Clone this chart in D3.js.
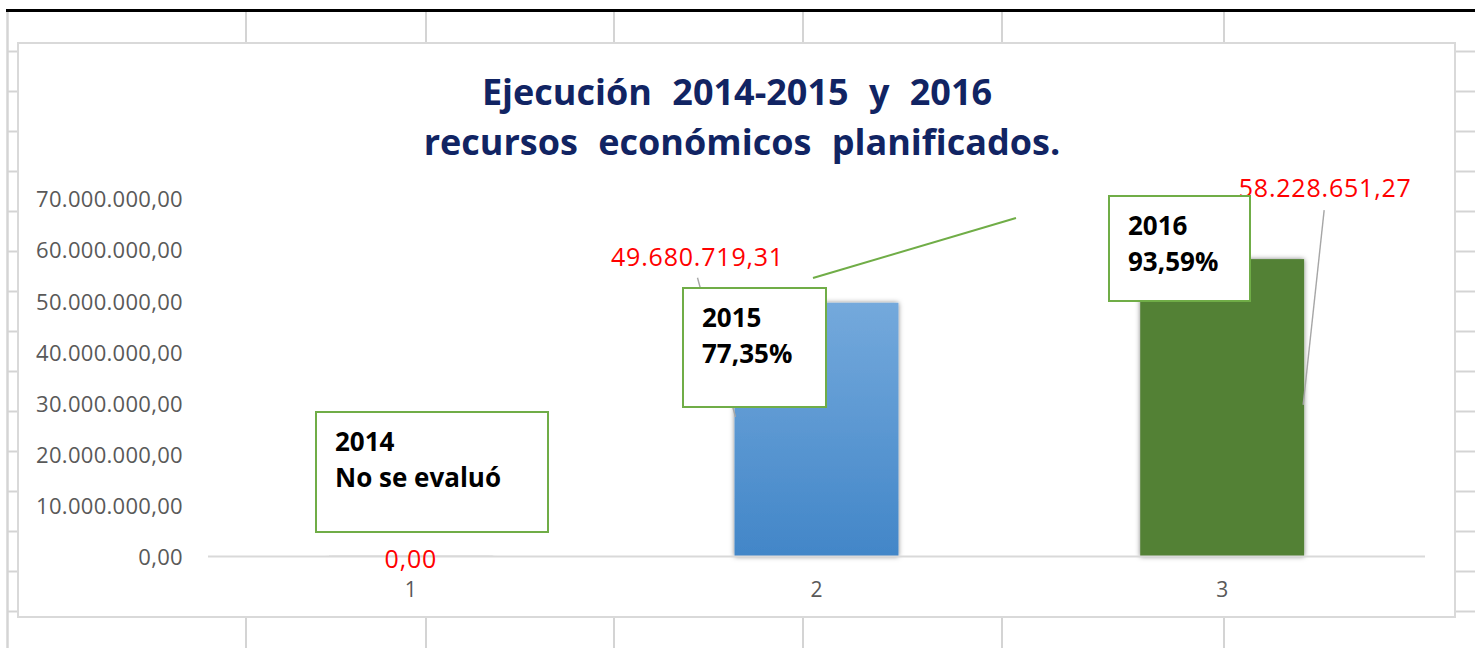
<!DOCTYPE html>
<html>
<head>
<meta charset="utf-8">
<script src="https://cdn.jsdelivr.net/npm/d3@7"></script>
<style>
  html, body { margin: 0; padding: 0; background: #ffffff; }
  svg { display: block; }
</style>
</head>
<body>
<svg id="chart" width="1475" height="648"></svg>
<script>
// ---------------- DATA ----------------
const categories = ["1", "2", "3"];
const values = [0, 49680719.31, 58228651.27];
const yTickValues = [0, 10000000, 20000000, 30000000, 40000000, 50000000, 60000000, 70000000];
const boxYears = ["2014", "2015", "2016"];
const boxTexts = ["No se evaluó", "77,35%", "93,59%"];
const titleLines = ["Ejecución 2014-2015 y 2016", "recursos económicos planificados."];

// ---------------- LAYOUT / STYLE ----------------
const W = 1475, H = 648;
const chartBox = { x: 18, y: 43, w: 1437, h: 574 };
const plot = { left: 208, right: 1425, top: 199, bottom: 556.5 };
const gridColor = "#d4d4d4";
const colLines = [246, 426, 614, 803, 1002, 1224];

// label offsets relative to bar centre / bar top (annotation placement)
const labelOffsets = [{ dx: 0, dy: 11.5, fromZero: true }, { dx: -119, dy: -37 }, { dx: 103, dy: -62 }];
// leader lines: label anchor -> bar anchor (relative)
const leaders = [null, { x1: -119, y1: -25, x2: -81, yv: 0.55 }, { x1: 102, y1: -49, x2: 81, yv: 0.51 }];
// annotation text boxes (absolute, free-floating like in the sheet)
const boxes = [
  { x: 316, y: 412, w: 232, h: 120 },
  { x: 683, y: 288, w: 143, h: 119 },
  { x: 1109, y: 196, w: 141, h: 105 }
];

const svg = d3.select("#chart");
svg.append("rect").attr("width", W).attr("height", H).attr("fill", "#ffffff");

// defs
const defs = svg.append("defs");
const grad = defs.append("linearGradient").attr("id", "blueGrad")
  .attr("x1", 0).attr("y1", 0).attr("x2", 0).attr("y2", 1);
grad.append("stop").attr("offset", "0%").attr("stop-color", "#74a9dc");
grad.append("stop").attr("offset", "100%").attr("stop-color", "#4286c8");
const filt = defs.append("filter").attr("id", "shadow")
  .attr("x", "-20%").attr("y", "-20%").attr("width", "140%").attr("height", "140%");
filt.append("feDropShadow").attr("dx", 0).attr("dy", 0).attr("stdDeviation", 2.8)
  .attr("flood-color", "#000").attr("flood-opacity", 0.5);
const barFills = ["#d9d9d9", "url(#blueGrad)", "#538135"];

// ---------------- SPREADSHEET BACKGROUND ----------------
const bg = svg.append("g");
colLines.forEach(x => {
  bg.append("line").attr("x1", x).attr("x2", x).attr("y1", 11).attr("y2", chartBox.y)
    .attr("stroke", gridColor).attr("stroke-width", 2);
  bg.append("line").attr("x1", x).attr("x2", x).attr("y1", chartBox.y + chartBox.h).attr("y2", H)
    .attr("stroke", gridColor).attr("stroke-width", 2);
});
for (let k = 0; k < 16; k++) {
  const yy = 51.5 + 40 * k;
  bg.append("line").attr("x1", 7).attr("x2", chartBox.x).attr("y1", yy).attr("y2", yy)
    .attr("stroke", gridColor).attr("stroke-width", 2);
  bg.append("line").attr("x1", chartBox.x + chartBox.w).attr("x2", W).attr("y1", yy).attr("y2", yy)
    .attr("stroke", gridColor).attr("stroke-width", 2);
}
bg.append("line").attr("x1", 7.5).attr("x2", 7.5).attr("y1", 11).attr("y2", H)
  .attr("stroke", gridColor).attr("stroke-width", 2.5);
bg.append("line").attr("x1", 6).attr("x2", W).attr("y1", 10.5).attr("y2", 10.5)
  .attr("stroke", "#000").attr("stroke-width", 3);

// chart area
svg.append("rect").attr("x", chartBox.x).attr("y", chartBox.y)
  .attr("width", chartBox.w).attr("height", chartBox.h)
  .attr("fill", "#ffffff").attr("stroke", "#d9d9d9").attr("stroke-width", 2);

// ---------------- TITLE ----------------
const title = svg.append("text").attr("text-anchor", "middle")
  .attr("font-family", "'Open Sans', sans-serif").attr("font-weight", 700)
  .attr("font-size", 36).attr("fill", "#112463").attr("word-spacing", 11);
title.append("tspan").attr("x", 737).attr("y", 105).text(titleLines[0]);
title.append("tspan").attr("x", 742).attr("y", 155).text(titleLines[1]);

// ---------------- SCALES ----------------
const x = d3.scaleBand().domain(categories).range([plot.left, plot.right])
  .paddingInner(0.596).paddingOuter(0.298);
const y = d3.scaleLinear().domain([0, 70000000]).range([plot.bottom, plot.top]);

const locale = d3.formatLocale({ decimal: ",", thousands: ".", grouping: [3], currency: ["", ""] });
const fmt = locale.format(",.2f");

// y axis
const yAxis = d3.axisLeft(y).tickValues(yTickValues).tickSize(0).tickPadding(8).tickFormat(fmt);
const gy = svg.append("g").attr("transform", "translate(191,0)").call(yAxis);
gy.select(".domain").remove();
gy.selectAll("text").attr("font-family", "'Open Sans', sans-serif").attr("font-size", 22)
  .attr("letter-spacing", 0.3).attr("fill", "#595959").attr("dy", "0.36em");

// bars
const cx = d => x(d) + x.bandwidth() / 2;
svg.append("g").selectAll("rect").data(values).join("rect")
  .attr("x", (d, i) => x(categories[i]))
  .attr("width", x.bandwidth())
  .attr("y", d => Math.min(y(d), plot.bottom - 1))
  .attr("height", d => Math.max(plot.bottom - y(d), 1))
  .attr("fill", (d, i) => barFills[i])
  .attr("filter", "url(#shadow)");

// x axis
const xAxis = d3.axisBottom(x).tickSize(0).tickSizeOuter(0).tickPadding(26);
const gx = svg.append("g").attr("transform", `translate(0,${plot.bottom})`).call(xAxis);
gx.select(".domain").attr("d", `M${plot.left},0H${plot.right}`)
  .attr("stroke", "#d9d9d9").attr("stroke-width", 2);
gx.selectAll("text").attr("font-family", "'Open Sans', sans-serif").attr("font-size", 21)
  .attr("fill", "#595959");

// leader lines
const gl = svg.append("g");
values.forEach((v, i) => {
  const L = leaders[i];
  if (!L) return;
  const c = cx(categories[i]);
  gl.append("line")
    .attr("x1", c + L.x1).attr("y1", y(v) + L.y1)
    .attr("x2", c + L.x2).attr("y2", y(v * L.yv))
    .attr("stroke", "#a6a6a6").attr("stroke-width", 1.4);
});

// value labels
svg.append("g").selectAll("text").data(values).join("text")
  .attr("x", (d, i) => cx(categories[i]) + labelOffsets[i].dx)
  .attr("y", (d, i) => (labelOffsets[i].fromZero ? y(0) : y(d)) + labelOffsets[i].dy)
  .attr("text-anchor", "middle")
  .attr("font-family", "'Open Sans', sans-serif").attr("font-size", 25)
  .attr("letter-spacing", 0.8)
  .attr("fill", "#ff0000")
  .text(d => fmt(d));

// green connector line
svg.append("line").attr("x1", 813).attr("y1", 278).attr("x2", 1016).attr("y2", 218)
  .attr("stroke", "#70ad47").attr("stroke-width", 2);

// annotation boxes
const gb = svg.append("g").selectAll("g").data(boxes).join("g");
gb.append("rect").attr("x", d => d.x).attr("y", d => d.y).attr("width", d => d.w).attr("height", d => d.h)
  .attr("fill", "#ffffff").attr("stroke", "#70ad47").attr("stroke-width", 2);
const bt = gb.append("text").attr("font-family", "'Open Sans', sans-serif").attr("font-weight", 700)
  .attr("font-size", 26).attr("fill", "#000");
bt.append("tspan").attr("x", d => d.x + 19).attr("y", d => d.y + 39).text((d, i) => boxYears[i]);
bt.append("tspan").attr("x", d => d.x + 19).attr("y", d => d.y + 75).text((d, i) => boxTexts[i]);
</script>
</body>
</html>
